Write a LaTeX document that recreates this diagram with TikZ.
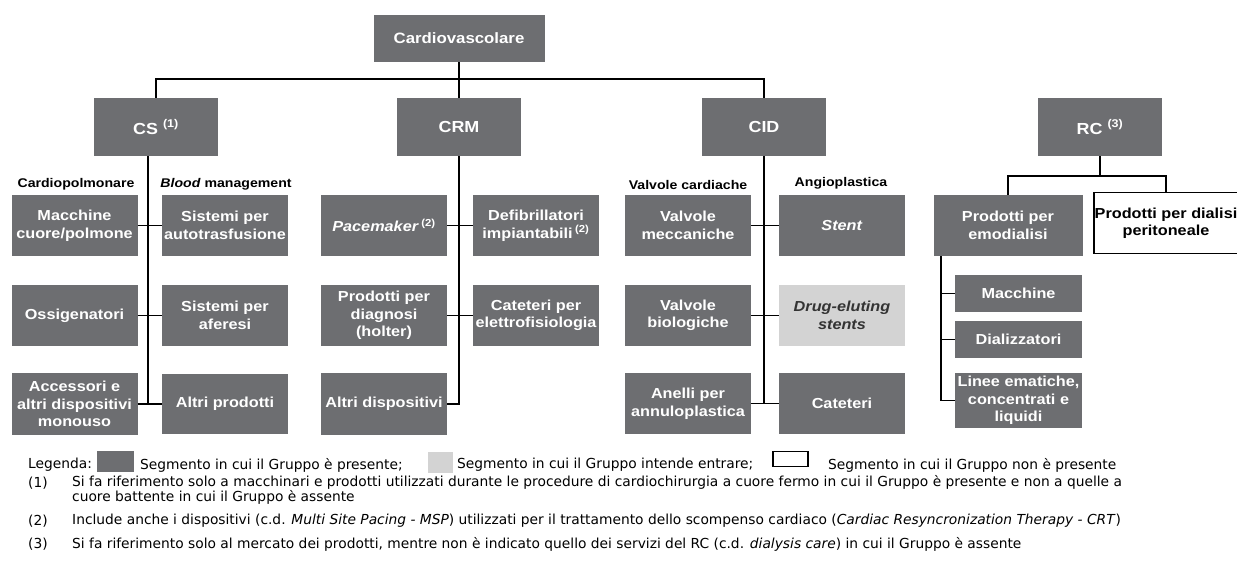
\documentclass[tikz,border=0pt]{standalone}
\usepackage{fontspec}
\setmainfont{Liberation Sans}
\newfontfamily\boxfont[FakeStretch=1.12]{Liberation Sans}
\newfontfamily\legfont{DejaVu Sans}
\usetikzlibrary{positioning}
\definecolor{segdark}{RGB}{109,110,113}
\definecolor{seglight}{RGB}{211,211,211}

\begin{document}
\begin{tikzpicture}[
  x=1pt, y=-1pt,
  seg/.style={fill=segdark, text=white, align=center, inner sep=0pt,
    font=\boxfont\bfseries\fontsize{14.5}{17.5}\selectfont,
    minimum width=126pt, minimum height=61pt},
  segnew/.style={seg, fill=seglight, text=black!80},
  segout/.style={seg, fill=white, draw=black, line width=1.4pt, text=black},
  head/.style={seg, font=\boxfont\bfseries\fontsize{16}{18}\selectfont,
    minimum width=124pt, minimum height=58pt},
  sub/.style={seg, minimum width=127pt, minimum height=37pt},
  lbl/.style={font=\boxfont\bfseries\fontsize{12.6}{15}\selectfont, inner sep=0pt},
  leg/.style={font=\legfont\fontsize{13.8}{14.5}\selectfont, inner sep=0pt, anchor=west, align=left},
  link/.style={draw, line width=1.8pt}
]
\useasboundingbox (0,0) rectangle (1237,560);

\node[seg, font=\boxfont\bfseries\fontsize{15}{18}\selectfont, minimum width=171pt, minimum height=47pt] (cardio) at (459,38.5) {Cardiovascolare};
\node[head] (cs) at (156,127) {CS \textsuperscript{(1)}};
\node[head] (crm) at (459,127) {CRM};
\node[head] (cid) at (764,127) {CID};
\node[head] (rc) at (1100,127) {RC \textsuperscript{(3)}};
\coordinate (bus) at (cardio.south |- 0,79);
\draw[link] (cardio.south) -- (crm.north);
\draw[link] (cs.north) |- (bus) -| (cid.north);

\node[lbl] (cpl) at (76,184) {Cardiopolmonare};
\node[lbl] (blm) at (226,184) {\textit{Blood} management};
\node[lbl] (vlc) at (688,185) {Valvole cardiache};
\node[lbl] (ang) at (841,183) {Angioplastica};

\node[seg] (mcp) at (74.5,225.5) {Macchine\\cuore/polmone};
\node[seg] (sat) at (225,225.5) {Sistemi per\\autotrasfusione};
\node[seg] (oss) at (74.5,315.5) {Ossigenatori};
\node[seg] (saf) at (225,315.5) {Sistemi per\\aferesi};
\node[seg, minimum height=62pt] (acc) at (74.5,404) {Accessori e\\altri dispositivi\\monouso};
\node[seg, minimum height=60pt] (apr) at (225,404) {Altri prodotti};
\coordinate (csv) at (148,0);
\draw[link] (cs.south -| csv) -- (csv |- acc.east);
\foreach \a/\b in {mcp/sat, oss/saf, acc/apr}
  \draw[link] (\a.east) -- (\b.west);

\node[seg] (pmk) at (384,225.5) {\textit{Pacemaker}\,\textsuperscript{(2)}};
\node[seg] (dfb) at (536,225.5) {Defibrillatori\\impiantabili\,\textsuperscript{(2)}};
\node[seg] (pdg) at (384,315.5) {Prodotti per\\diagnosi\\(holter)};
\node[seg] (cte) at (536,315.5) {Cateteri per\\elettrofisiologia};
\node[seg, minimum height=62pt] (adv) at (384,404) {Altri dispositivi};
\draw[link] (crm.south) -- (crm.south |- adv.east) -- (adv.east);
\foreach \a/\b in {pmk/dfb, pdg/cte}
  \draw[link] (\a.east) -- (\b.west);

\node[seg] (vme) at (688,225.5) {Valvole\\meccaniche};
\node[seg] (stn) at (842,225.5) {\textit{Stent}};
\node[seg] (vbi) at (688,315.5) {Valvole\\biologiche};
\node[segnew] (des) at (842,315.5) {\textit{Drug-eluting}\\\textit{stents}};
\node[seg] (ann) at (688,403.5) {Anelli per\\annuloplastica};
\node[seg] (cat) at (842,403.5) {Cateteri};
\draw[link] (cid.south) -- (cid.south |- ann.east);
\foreach \a/\b in {vme/stn, vbi/des, ann/cat}
  \draw[link] (\a.east) -- (\b.west);

\node[seg, minimum width=149pt] (emo) at (1008,225.5) {Prodotti per\\emodialisi};
\node[segout, minimum width=144pt, minimum height=61pt] (per) at (1166,223) {Prodotti per dialisi\\peritoneale};
\coordinate (rcbus) at (rc.south |- 0,176);
\draw[link] (rc.south) -- (rcbus);
\draw[link] (emo.north) |- (rcbus) -| (per.north);

\node[sub] (mac) at (1018.5,293.5) {Macchine};
\node[sub] (dlz) at (1018.5,339.5) {Dializzatori};
\node[seg, minimum width=127pt, minimum height=55pt] (lin) at (1018.5,400.5) {Linee ematiche,\\concentrati e\\liquidi};
\coordinate (emv) at (941,256);
\draw[link] (emv) |- (lin.west);
\foreach \b in {mac, dlz}
  \draw[link] (\b.west -| emv) -- (\b.west);

\node[leg] (lgd) at (28,465) {Legenda:};
\node[fill=segdark, inner sep=0pt, minimum width=37pt, minimum height=21pt] (swd) at (115.5,461) {};
\node[leg] (lgp) at (140,465) {Segmento in cui il Gruppo è presente;};
\node[fill=seglight, inner sep=0pt, minimum width=25pt, minimum height=21pt] (swl) at (440.5,462) {};
\node[leg] (lge) at (457,465) {Segmento in cui il Gruppo intende entrare;};
\node[draw, line width=1.4pt, inner sep=0pt, minimum width=35pt, minimum height=15pt] (swo) at (790.5,459) {};
\node[leg] (lgn) at (828,465) {Segmento in cui il Gruppo non è presente};

\node[leg] (n1) at (28,483) {(1)};
\node[leg] (t1) at (72,490) {Si fa riferimento solo a macchinari e prodotti utilizzati durante le procedure di cardiochirurgia a cuore fermo in cui il Gruppo è presente e non a quelle a\\cuore battente in cui il Gruppo è assente};
\node[leg] (n2) at (28,521) {(2)};
\node[leg] (t2) at (72,521) {Include anche i dispositivi (c.d. \textit{Multi Site Pacing - MSP}) utilizzati per il trattamento dello scompenso cardiaco (\textit{Cardiac Resyncronization Therapy - CRT})};
\node[leg] (n3) at (28,544) {(3)};
\node[leg] (t3) at (72,544) {Si fa riferimento solo al mercato dei prodotti, mentre non è indicato quello dei servizi del RC (c.d. \textit{dialysis care}) in cui il Gruppo è assente};
\end{tikzpicture}
\end{document}
